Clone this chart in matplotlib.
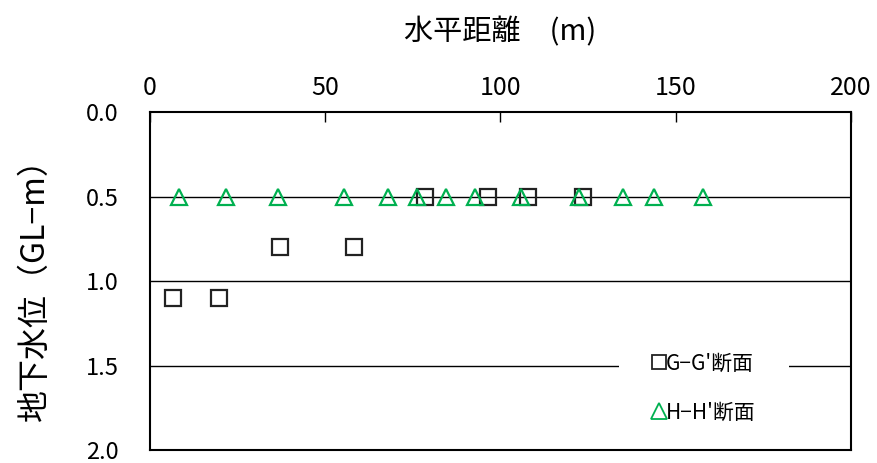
import matplotlib
matplotlib.use("Agg")
import matplotlib.pyplot as plt
from matplotlib.lines import Line2D

plt.rcParams['font.family'] = ['Noto Sans CJK JP', 'DejaVu Sans']

# G-G' section
gg_x = [6.8, 19.7, 37.2, 58.4, 78.5, 96.4, 108.0, 123.7]
gg_y = [1.1, 1.1, 0.8, 0.8, 0.5, 0.5, 0.5, 0.5]
# H-H' section
hh_x = [8.5, 21.7, 36.5, 55.5, 68.1, 76.4, 84.4, 92.8, 105.8, 122.5, 134.9, 143.8, 157.9]
hh_y = [0.5] * 13

x_ticks = [0, 50, 100, 150, 200]
y_ticks = [0.0, 0.5, 1.0, 1.5, 2.0]
x_title = "水平距離　(m)"
y_title = "地下水位（GL−m）"
labels = ["G−G'断面", "H−H'断面"]

fig = plt.figure(figsize=(8.77, 4.63), dpi=100)
ax = fig.add_axes([149.5/877, 13/463, (851-149.5)/877, (450-112.5)/463])

ax.set_xlim(0, 200)
ax.set_ylim(2.0, 0.0)
for yv in y_ticks[1:-1]:
    ax.axhline(yv, color='black', lw=1.0, zorder=1)

ax.plot(gg_x, gg_y, linestyle='none', marker='s', markersize=11,
        markerfacecolor='none', markeredgecolor='#222222', markeredgewidth=1.6, zorder=3)
ax.plot(hh_x, hh_y, linestyle='none', marker='^', markersize=12,
        markerfacecolor='none', markeredgecolor='#00B050', markeredgewidth=1.6, zorder=3)

ax.xaxis.tick_top()
ax.xaxis.set_label_position('top')
ax.set_xticks(x_ticks)
ax.set_xticklabels([str(v) for v in x_ticks], fontsize=18)
ax.tick_params(axis='x', direction='in', length=7, width=1, pad=8, top=True, bottom=False)
ax.set_yticks(y_ticks)
ax.set_yticklabels([f"{v:.1f}" for v in y_ticks], fontsize=17, va='center_baseline')
ax.tick_params(axis='y', length=0, pad=22)

ax.set_xlabel(x_title, fontsize=21, labelpad=25)
ax.set_ylabel(y_title, fontsize=23, labelpad=25)

for s in ax.spines.values():
    s.set_linewidth(1.5)
    s.set_color('black')
    s.set_zorder(6)

handles = [
    Line2D([], [], linestyle='none', marker='s', markersize=10, markerfacecolor='none',
           markeredgecolor='#222222', markeredgewidth=1.3),
    Line2D([], [], linestyle='none', marker='^', markersize=11, markerfacecolor='none',
           markeredgecolor='#00B050', markeredgewidth=1.3),
]
leg = ax.legend(handles, labels, loc='center', bbox_to_anchor=((704-149.5)/701.5, 1-(388-112.5)/337.5),
                fontsize=15, frameon=True, fancybox=False, framealpha=1, edgecolor='white',
                handlelength=0.6, handletextpad=0.05, labelspacing=1.3, borderpad=1.6,
                borderaxespad=0)
leg.get_frame().set_linewidth(0)
leg.set_zorder(5)

fig.savefig("out.png", dpi=100, facecolor='white')
